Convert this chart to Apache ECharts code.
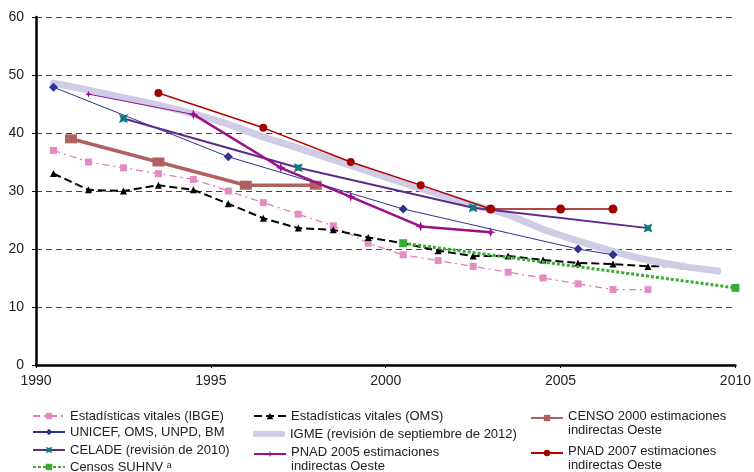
<!DOCTYPE html>
<html>
<head>
<meta charset="utf-8">
<script src="https://cdn.jsdelivr.net/npm/echarts@6/dist/echarts.min.js"></script>
<style>
  html, body { margin: 0; padding: 0; background: #fff; }
  #chart { width: 754px; height: 472px; }
</style>
</head>
<body>
<div id="chart"></div>
<script>
// Mortalidad infantil (por 1 000 nacidos vivos), distintas fuentes
const ibgeYears   = [1990.5, 1991.5, 1992.5, 1993.5, 1994.5, 1995.5, 1996.5, 1997.5, 1998.5, 1999.5, 2000.5, 2001.5, 2002.5, 2003.5, 2004.5, 2005.5, 2006.5, 2007.5];
const ibgeValues  = [37, 35, 34, 33, 32, 30, 28, 26, 24, 21, 19, 18, 17, 16, 15, 14, 13, 13];

const omsYears    = [1990.5, 1991.5, 1992.5, 1993.5, 1994.5, 1995.5, 1996.5, 1997.5, 1998.5, 1999.5, 2000.5, 2001.5, 2002.5, 2003.5, 2004.5, 2005.5, 2006.5, 2007.5, 2008.5];
const omsValues   = [33, 30.2, 30, 31, 30.2, 27.8, 25.3, 23.6, 23.3, 22, 21, 19.7, 18.8, 18.8, 18.1, 17.6, 17.4, 17, 17.1];

const censo2000Years  = [1991, 1993.5, 1996, 1998];
const censo2000Values = [39, 35, 31, 31];

const unicefYears  = [1990.5, 1995.5, 2000.5, 2005.5, 2006.5];
const unicefValues = [47.9, 35.9, 26.9, 20, 19];

const igmeYears  = [1990.5, 1991.5, 1992.5, 1993.5, 1994.5, 1995.5, 1996.5, 1997.5, 1998.5, 1999.5, 2000.5, 2001.5, 2002.5, 2003.5, 2004.5, 2005.5, 2006.5, 2007.5, 2008.5, 2009.5];
const igmeValues = [48.6, 47.4, 46.1, 44.8, 43.3, 41.5, 39.3, 37.4, 35.4, 33.4, 31.4, 29.5, 27.6, 25.9, 23.4, 21.4, 19.6, 18.1, 17.0, 16.2];

const pnad07Years  = [1993.5, 1996.5, 1999, 2001, 2003, 2005, 2006.5];
const pnad07Values = [46.9, 40.9, 35, 31, 26.9, 26.9, 26.9];

const celadeYears  = [1992.5, 1997.5, 2002.5, 2007.5];
const celadeValues = [42.5, 34, 27.1, 23.6];

const pnad05Years  = [1991.5, 1994.5, 1997, 1999, 2001, 2003];
const pnad05Values = [46.7, 43.2, 34, 29, 23.9, 22.9];

const censosYears  = [2000.5, 2010];
const censosValues = [21, 13.3];

const yTicks = [0, 10, 20, 30, 40, 50, 60];
const xTicks = [1990, 1995, 2000, 2005, 2010];

const names = {
  ibge: 'Estadísticas vitales (IBGE)',
  oms: 'Estadísticas vitales (OMS)',
  censo2000: 'CENSO 2000 estimaciones\nindirectas Oeste',
  unicef: 'UNICEF, OMS, UNPD, BM',
  igme: 'IGME (revisión de septiembre de 2012)',
  pnad07: 'PNAD 2007 estimaciones\nindirectas Oeste',
  celade: 'CELADE (revisión de 2010)',
  pnad05: 'PNAD 2005 estimaciones\nindirectas Oeste',
  censos: 'Censos SUHNV \u1d43'
};

const pairs = (xs, ys) => xs.map((x, i) => [x, ys[i]]);
const FONT = '"Liberation Sans", Arial, sans-serif';

const bowtie = 'path://M0,0 L5,2 L10,0 L8,5 L10,10 L5,8 L0,10 L2,5 Z';
const star = 'path://M5,0 L6.3,3.7 L10,5 L6.3,6.3 L5,10 L3.7,6.3 L0,5 L3.7,3.7 Z';

const legendText = { fontFamily: FONT, fontSize: 13, color: '#222', lineHeight: 14 };

function legendAt(item, left, top, twoLines, extra) {
  const opt = {
    data: [item],
    left: left,
    top: top,
    orient: 'vertical',
    padding: 0,
    itemGap: 0,
    itemWidth: 32,
    itemHeight: 8,
    selectedMode: false,
    textStyle: Object.assign({}, legendText)
  };
  if (twoLines) {
    // a short spacer row on top keeps the symbol level with the first text line
    opt.formatter = n => '{s| }\n' + n.split('\n').map(l => '{a|' + l + '}').join('\n');
    opt.textStyle.rich = {
      s: { fontSize: 1, lineHeight: 10 },
      a: Object.assign({}, legendText)
    };
  }
  return Object.assign(opt, extra || {});
}

const chart = echarts.init(document.getElementById('chart'));
chart.setOption({
  animation: false,
  backgroundColor: '#fff',
  grid: { left: 36, right: 11, top: 17, bottom: 107, containLabel: false },
  xAxis: {
    type: 'value',
    min: xTicks[0],
    max: xTicks[xTicks.length - 1],
    interval: 5,
    axisLine: { lineStyle: { color: '#000', width: 2.5 } },
    axisTick: { show: true, length: 3, lineStyle: { color: '#000' } },
    axisLabel: { fontFamily: FONT, fontSize: 14, color: '#222', margin: 9, formatter: v => String(v) },
    splitLine: { show: false }
  },
  yAxis: {
    type: 'value',
    min: yTicks[0],
    max: yTicks[yTicks.length - 1],
    interval: 10,
    axisLine: { show: true, lineStyle: { color: '#000', width: 2.5 } },
    axisTick: { show: true, length: 4, lineStyle: { color: '#000' } },
    axisLabel: { fontFamily: FONT, fontSize: 14, color: '#222', margin: 12 },
    splitLine: { show: true, lineStyle: { color: '#444', width: 1, type: [6, 4] } }
  },
  legend: [
    legendAt(names.ibge, 32, 409),
    legendAt(names.unicef, 32, 425),
    legendAt(names.celade, 32, 443),
    legendAt(names.censos, 32, 460),
    legendAt(names.oms, 253, 409),
    legendAt({ name: names.igme, icon: 'roundRect', itemStyle: { color: '#cfcce6' } }, 253, 427, false, { itemHeight: 6 }),
    legendAt(names.pnad05, 253, 435, true),
    legendAt(names.censo2000, 530, 399, true),
    legendAt(names.pnad07, 530, 434, true)
  ],
  series: [
    {
      name: names.ibge, type: 'line', z: 2, data: pairs(ibgeYears, ibgeValues),
      symbol: 'rect', symbolSize: 7,
      lineStyle: { color: '#e07ab8', width: 1.3, type: [7, 4, 2, 4] },
      itemStyle: { color: '#e68ac2' }
    },
    {
      name: names.oms, type: 'line', z: 2, data: pairs(omsYears, omsValues),
      symbol: 'triangle', symbolSize: 7,
      lineStyle: { color: '#000', width: 2, type: [8, 4] },
      itemStyle: { color: '#000' }
    },
    {
      name: names.censo2000, type: 'line', z: 2, data: pairs(censo2000Years, censo2000Values),
      symbol: 'rect', symbolSize: [12, 9],
      lineStyle: { color: '#b0605e', width: 3.5 },
      itemStyle: { color: '#b0605e' }
    },
    {
      name: names.unicef, type: 'line', z: 4, data: pairs(unicefYears, unicefValues),
      symbol: 'diamond', symbolSize: 9,
      lineStyle: { color: '#2e3192', width: 1 },
      itemStyle: { color: '#2e3192' }
    },
    {
      name: names.igme, type: 'line', z: 3, data: pairs(igmeYears, igmeValues),
      symbol: 'none', smooth: 0.2,
      lineStyle: { color: '#cfcce6', width: 7, cap: 'round' },
      itemStyle: { color: '#cfcce6' }
    },
    {
      name: names.pnad07, type: 'line', z: 4, data: pairs(pnad07Years.slice(0, 5), pnad07Values.slice(0, 5)),
      symbol: 'circle', symbolSize: 8,
      lineStyle: { color: '#b00000', width: 1.4 },
      itemStyle: { color: '#a30000' }
    },
    {
      name: 'pnad07-tramo-final', type: 'line', z: 4, data: pairs(pnad07Years.slice(4), pnad07Values.slice(4)),
      symbol: 'circle', symbolSize: 9,
      lineStyle: { color: '#b44646', width: 2 },
      itemStyle: { color: '#a30000' }
    },
    {
      name: names.celade, type: 'line', z: 4, data: pairs(celadeYears, celadeValues),
      symbol: bowtie, symbolSize: 9,
      lineStyle: { color: '#5b2a8c', width: 2 },
      itemStyle: { color: '#0f7b7b' }
    },
    {
      name: 'pnad05-tramo-inicial', type: 'line', z: 4, data: pairs(pnad05Years.slice(0, 2), pnad05Values.slice(0, 2)),
      symbol: star, symbolSize: 7,
      lineStyle: { color: '#9b1088', width: 1 },
      itemStyle: { color: '#9b1088' }
    },
    {
      name: names.pnad05, type: 'line', z: 4, data: pairs(pnad05Years.slice(1), pnad05Values.slice(1)),
      symbol: star, symbolSize: 10,
      lineStyle: { color: '#9b1088', width: 2.5 },
      itemStyle: { color: '#9b1088' }
    },
    {
      name: names.censos, type: 'line', z: 4, data: pairs(censosYears, censosValues),
      symbol: 'rect', symbolSize: 8,
      lineStyle: { color: '#3aaa35', width: 3, type: [3, 2] },
      itemStyle: { color: '#3aaa35' }
    }
  ]
});
</script>
</body>
</html>
